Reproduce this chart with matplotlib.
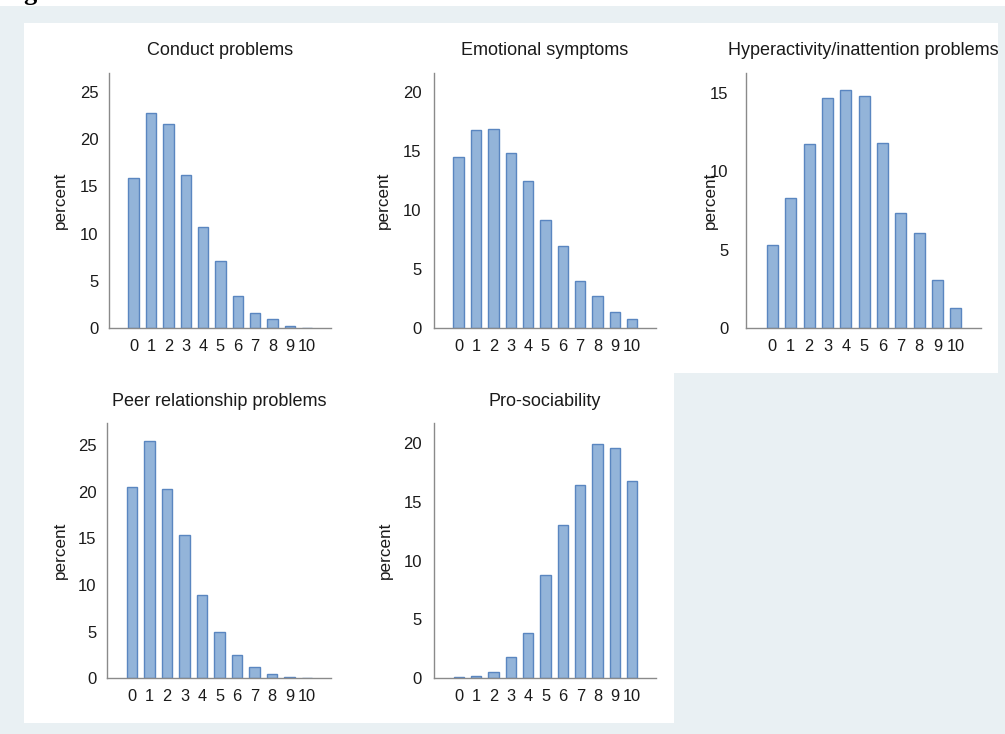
import numpy as np
import matplotlib
matplotlib.use("Agg")
import matplotlib.pyplot as plt
from matplotlib.patches import Rectangle

# SDQ subscale score distributions (percent of children per score)

scores = list(range(11))
score_labels = [str(s) for s in scores]

conduct = [15.9, 22.8, 21.6, 16.2, 10.7, 7.1, 3.4, 1.6, 1.0, 0.25, 0.07]
emotional = [14.5, 16.8, 16.9, 14.8, 12.5, 9.15, 7.0, 4.0, 2.7, 1.35, 0.76]
hyperactivity = [5.3, 8.3, 11.75, 14.7, 15.2, 14.8, 11.8, 7.35, 6.1, 3.1, 1.3]
peer = [20.55, 25.5, 20.3, 15.4, 8.95, 4.95, 2.45, 1.2, 0.45, 0.15, 0.05]
prosocial = [0.1, 0.2, 0.5, 1.8, 3.85, 8.75, 13.0, 16.4, 19.9, 19.55, 16.75]

titles = ["Conduct problems", "Emotional symptoms",
          "Hyperactivity/inattention problems",
          "Peer relationship problems", "Pro-sociability"]
series = [conduct, emotional, hyperactivity, peer, prosocial]
y_ticks = [[0, 5, 10, 15, 20, 25], [0, 5, 10, 15, 20], [0, 5, 10, 15],
           [0, 5, 10, 15, 20, 25], [0, 5, 10, 15, 20]]
y_tops = [27.0, 21.6, 16.3, 27.35, 21.65]

W, H = 1005, 734
BG = "#e9f0f3"
FACE = "#93b4d9"
EDGE = "#5a86c0"
AXIS = "#8a8a8a"
TXT = "#1a1a1a"

# axes boxes in pixels: left, top, right, bottom
boxes = [(109, 73, 331, 328.3), (434, 73, 656, 328.3), (746.3, 72.7, 981, 328.3),
         (107.3, 423.3, 331, 678.3), (434.3, 423.3, 656, 678.3)]
ytick_pad = [7.7, 8.9, 12.7, 7.7, 9.0]
ylabel_off = [-49, -50.7, -36, -47.3, -49.3]

plt.rcParams['font.family'] = ['Liberation Sans', 'DejaVu Sans']

fig = plt.figure(figsize=(W / 100, H / 100), dpi=100)
fig.patch.set_facecolor(BG)


def px_rect(x0, y0, x1, y1, color):
    fig.patches.append(Rectangle((x0 / W, 1 - y1 / H), (x1 - x0) / W, (y1 - y0) / H,
                                 transform=fig.transFigure, facecolor=color,
                                 edgecolor='none', zorder=-10))


# white strip at the very top and the white panels behind the graphs
px_rect(0, 0, W, 6, "white")
px_rect(23.5, 22.7, 998, 372.7, "white")
px_rect(23.5, 372, 673.7, 722.7, "white")

# bottom of the "Figure" heading cut off at the top
fig.text(23 / W, 1.0, "g", fontsize=19, fontweight='bold',
         family=['Liberation Serif', 'DejaVu Serif'], va='baseline', ha='left', color='black')

for i, vals in enumerate(series):
    x0, y0, x1, y1 = boxes[i]
    ax = fig.add_axes([x0 / W, 1 - y1 / H, (x1 - x0) / W, (y1 - y0) / H])
    ax.set_facecolor('white')
    ax.bar(scores, vals, width=0.6, color=FACE, edgecolor=EDGE, linewidth=1.0)
    ax.set_xlim(-1.42, 11.37)
    ax.set_ylim(0, y_tops[i])
    ax.set_xticks(scores)
    ax.set_xticklabels(score_labels)
    ax.set_yticks(y_ticks[i])
    for s in ['top', 'right']:
        ax.spines[s].set_visible(False)
    for s in ['left', 'bottom']:
        ax.spines[s].set_color(AXIS)
        ax.spines[s].set_linewidth(1.0)
    ax.tick_params(axis='both', length=0, colors=TXT)
    ax.tick_params(axis='x', pad=7.5, labelsize=11.8)
    ax.tick_params(axis='y', pad=ytick_pad[i], labelsize=12)
    ax.set_title(titles[i], fontsize=13, color=TXT, pad=12.7)
    ax.set_ylabel("percent", fontsize=12.3, color=TXT, va='center')
    ax.yaxis.set_label_coords(ylabel_off[i] / (x1 - x0), 0.5)

fig.savefig("out.png", dpi=100, facecolor=fig.get_facecolor())
